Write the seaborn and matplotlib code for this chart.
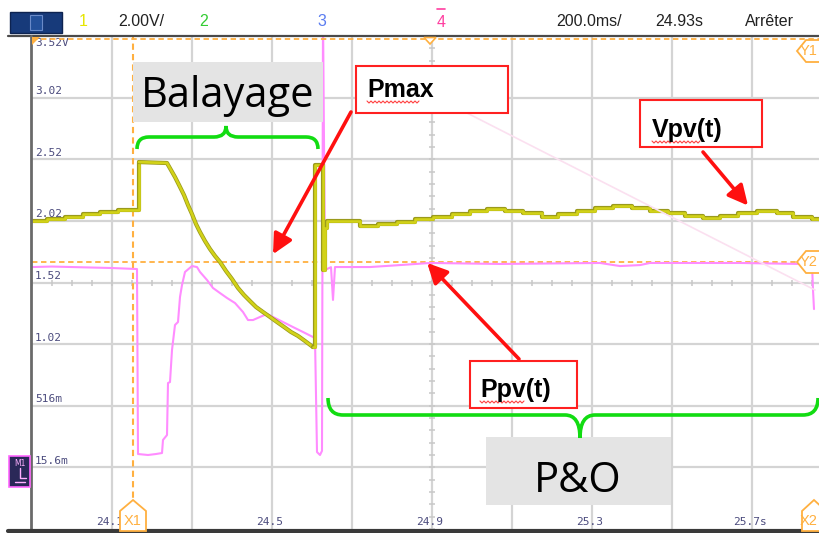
import matplotlib
matplotlib.use("Agg")
import matplotlib.pyplot as plt
import matplotlib.patheffects as pe
from matplotlib.lines import Line2D
from matplotlib.patches import Polygon, Rectangle, PathPatch
from matplotlib.path import Path
import numpy as np
import pandas as pd
import seaborn as sns

# ---------------- channel 1 : PV voltage Vpv(t)  (s, V) ----------------
vpv_time = [23.900, 23.9375, 23.9825, 24.0275, 24.070, 24.115,
            24.1675, 24.200, 24.2375, 24.2475, 24.2575, 24.2675, 24.280,
            24.290, 24.300, 24.310, 24.320, 24.3325, 24.345, 24.3575,
            24.370, 24.385, 24.400, 24.415, 24.430, 24.445, 24.460,
            24.4775, 24.495, 24.5125, 24.530, 24.5475, 24.565, 24.5825,
            24.6025, 24.6075, 24.6275, 24.6325, 24.6375,
            24.720, 24.765, 24.8125, 24.8575, 24.9025, 24.950, 24.995,
            25.0375, 25.0825, 25.1275, 25.175, 25.215, 25.2625, 25.3075,
            25.3525, 25.400, 25.445, 25.490, 25.5325, 25.5775, 25.620,
            25.665, 25.7125, 25.7625, 25.8025, 25.850, 25.870]
vpv_level = [2.015, 2.031, 2.047, 2.071, 2.088, 2.104,
             2.493, 2.489, 2.485, 2.428, 2.371, 2.307, 2.225,
             2.144, 2.071, 1.990, 1.925, 1.852, 1.787, 1.731,
             1.682, 1.609, 1.544, 1.471, 1.414, 1.365, 1.317,
             1.276, 1.236, 1.195, 1.155, 1.114, 1.082, 1.041,
             0.992, 2.469, 1.617, 1.958, 2.015,
             1.974, 1.990, 2.006, 2.031, 2.047, 2.071, 2.096,
             2.112, 2.096, 2.079, 2.047, 2.071, 2.096, 2.120,
             2.136, 2.120, 2.096, 2.079, 2.055, 2.039, 2.055,
             2.079, 2.096, 2.079, 2.047, 2.031, 2.031]
# index range of the MPP sweep (drawn as a ramp, the rest as held steps)
SWEEP_START, SWEEP_END = 6, 34

# ---------------- channel 4 : PV power Ppv(t) ----------------
ppv_time = [23.900, 23.950, 24.000, 24.050, 24.100, 24.1625,
            24.165, 24.190, 24.210, 24.225, 24.2275, 24.2375, 24.240,
            24.245, 24.250, 24.2575, 24.265, 24.270, 24.275, 24.2825,
            24.300, 24.3125, 24.320, 24.3375, 24.3525, 24.370, 24.3875,
            24.4075, 24.4275, 24.440, 24.4525, 24.470, 24.4875, 24.5025,
            24.5275, 24.5525, 24.5775, 24.6075, 24.6125, 24.620, 24.625,
            24.6275, 24.6325, 24.6475, 24.6525, 24.6575, 24.745, 24.820,
            24.895, 25.070, 25.320, 25.370, 25.420, 25.445, 25.670,
            25.820, 25.850, 25.8525, 25.855]
ppv_level = [1.641, 1.645, 1.641, 1.637, 1.633, 1.625,
             0.124, 0.116, 0.124, 0.132, 0.238, 0.278, 0.700,
             0.708, 0.968, 1.171, 1.195, 1.398, 1.495, 1.601,
             1.649, 1.641, 1.601, 1.536, 1.471, 1.430, 1.390,
             1.349, 1.276, 1.211, 1.211, 1.236, 1.260, 1.236,
             1.195, 1.154, 1.114, 1.065, 0.140, 0.116, 0.150,
             3.700, 1.617, 1.640, 1.374, 1.641, 1.641, 1.657,
             1.674, 1.666, 1.674, 1.649, 1.657, 1.674, 1.674,
             1.666, 1.666, 1.455, 1.300]

# ---------------- graticule labels ----------------
volt_labels = ["3.52V", "3.02", "2.52", "2.02", "1.52", "1.02", "516m", "15.6m"]
volt_levels = [3.5156, 3.0156, 2.5156, 2.0156, 1.5156, 1.0156, 0.5156, 0.0156]
time_labels = ["24.1", "24.5", "24.9", "25.3", "25.7s"]
time_levels = [24.1, 24.5, 24.9, 25.3, 25.7]

# cursors
cursor_x1 = 24.1525
cursor_y2 = 1.682

W, H = 820, 533
T_MIN, T_MAX = 23.9, 23.9 + 788 / 400.0
V_MIN, V_MAX = -0.4844, 3.5156

sns.set_style("white")
plt.rcParams["font.family"] = ["DejaVu Sans"]

fig = plt.figure(figsize=(W / 100, H / 100), dpi=100)
fig.patch.set_facecolor("white")
ax = fig.add_axes([32 / W, 1 - 529 / H, (820 - 32) / W, (529 - 36) / H])
ax.set_xlim(T_MIN, T_MAX)
ax.set_ylim(V_MIN, V_MAX)
for s in ax.spines.values():
    s.set_visible(False)

# graticule
ax.set_xticks(np.arange(24.1, 25.86, 0.2))
ax.set_yticks(volt_levels[1:])
ax.grid(True, color="#d4d4d4", lw=1.6)
ax.set_axisbelow(True)
ax.tick_params(length=0, labelbottom=False, labelleft=False)

# sub-division marks on the centre lines
sub_t = np.arange(23.9, T_MAX, 0.05)
ax.plot(sub_t, np.full_like(sub_t, 1.5156), ls="none", marker="|", ms=5,
        mew=1.1, color="#c8c8c8", zorder=1)
sub_v = np.arange(-0.4844, 3.52, 0.1)
ax.plot(np.full_like(sub_v, 24.9), sub_v, ls="none", marker="_", ms=5,
        mew=1.1, color="#c8c8c8", zorder=1)

# cursors (dashed orange)
cur_col = "#ffb040"
ax.axvline(cursor_x1, color=cur_col, lw=1.5, ls=(0, (3, 2)), zorder=2)
ax.axhline(cursor_y2, color=cur_col, lw=1.3, ls=(0, (3, 2)), zorder=2)

# traces
df_v = pd.DataFrame({"t": vpv_time, "v": vpv_level})
df_p = pd.DataFrame({"t": ppv_time, "v": ppv_level})
sns.lineplot(data=df_p, x="t", y="v", ax=ax, sort=False, estimator=None,
             color="#ff8cff", lw=1.5, zorder=4)

yellow_kw = dict(color="#d2d218", lw=1.9, zorder=5,
                 path_effects=[pe.Stroke(linewidth=3.0, foreground="#9a9a1c"),
                               pe.Normal()])
sns.lineplot(data=df_v.iloc[:SWEEP_START + 1], x="t", y="v", ax=ax, sort=False,
             estimator=None, drawstyle="steps-post", **yellow_kw)
sns.lineplot(data=df_v.iloc[SWEEP_START:SWEEP_END + 1], x="t", y="v", ax=ax,
             sort=False, estimator=None, **yellow_kw)
sns.lineplot(data=df_v.iloc[SWEEP_END:], x="t", y="v", ax=ax, sort=False,
             estimator=None, drawstyle="steps-post", **yellow_kw)
ax.set_xlim(T_MIN, T_MAX)
ax.set_ylim(V_MIN, V_MAX)
ax.set_xlabel("")
ax.set_ylabel("")

# graticule labels
lab_col = "#4b4b7d"
for lbl, lvl in zip(volt_labels, volt_levels):
    if lbl.endswith("V"):
        ax.annotate(lbl, xy=(T_MIN, lvl), xytext=(2, -1.5), textcoords="offset points",
                    ha="left", va="top", fontsize=8, color=lab_col,
                    family="DejaVu Sans Mono", zorder=6)
    else:
        ax.annotate(lbl, xy=(T_MIN, lvl), xytext=(2, 1), textcoords="offset points",
                    ha="left", va="bottom", fontsize=8, color=lab_col,
                    family="DejaVu Sans Mono", zorder=6)
for lbl, pos in zip(time_labels, time_levels):
    ax.annotate(lbl, xy=(pos, V_MIN), xytext=(-1.5, 1.5), textcoords="offset points",
                ha="center", va="bottom", fontsize=8, color=lab_col,
                family="DejaVu Sans Mono", zorder=6, annotation_clip=False)


def P(x, y):
    return (x / W, 1 - y / H)


def fig_line(xs, ys, **kw):
    fig.add_artist(Line2D(np.asarray(xs) / W, 1 - np.asarray(ys) / H, **kw))


def fig_poly(pts, **kw):
    fig.add_artist(Polygon([P(*p) for p in pts], closed=True,
                           transform=fig.transFigure, **kw))


# frame of the screen
fig_line([8, 820], [36, 36], color="#4a4a4a", lw=1.6, zorder=7)
fig_line([32, 820], [38.5, 38.5], color=cur_col, lw=1.3, ls=(0, (3, 2)), zorder=7)
fig_line([31, 31], [36, 530], color="#6a6a6a", lw=2.0, zorder=7)
fig_line([8, 820], [530.5, 530.5], color="#3a3a3a", lw=3.0, zorder=7)
fig_poly([(32, 37), (40, 37), (32, 45)], facecolor=cur_col, edgecolor="none", zorder=8)
fig_poly([(424, 37.5), (436, 37.5), (430, 44)], facecolor="white",
         edgecolor=cur_col, lw=1.2, zorder=8)

# header bar
fig.add_artist(Rectangle(P(10, 33), 52 / W, 21 / H, transform=fig.transFigure,
                         facecolor="#173a7a", edgecolor="#0d2350", lw=1, zorder=7))
fig.add_artist(Rectangle(P(30, 30), 12 / W, 15 / H, transform=fig.transFigure,
                         facecolor="#23509a", edgecolor="#6a8ac8", lw=0.8, zorder=8))
hdr = dict(fontsize=11.5, va="center", family="Liberation Sans", zorder=8)
fig.text(*P(83, 21), "1", color="#e6e600", ha="center", **hdr)
fig.text(*P(118, 21), "2.00V/", color="#222222", ha="left", **hdr)
fig.text(*P(204, 21), "2", color="#33cc33", ha="center", **hdr)
fig.text(*P(322, 21), "3", color="#5a7cf0", ha="center", **hdr)
fig.text(*P(441, 22), "4", color="#ff3ea0", ha="center", **hdr)
fig_line([437, 445], [9, 9], color="#ff3ea0", lw=1.2, zorder=8)
fig.text(*P(556, 21), "200.0ms/", color="#222222", ha="left", **hdr)
fig.text(*P(655, 21), "24.93s", color="#222222", ha="left", **hdr)
fig.text(*P(745, 21), "Arrêter", color="#222222", ha="left", **hdr)

# ground / channel marker on the left
fig.add_artist(Rectangle(P(9, 487), 21 / W, 31 / H, transform=fig.transFigure,
                         facecolor="#2a2858", edgecolor="#ff66ff", lw=1.2, zorder=8))
fig.text(*P(14, 463), "M1", color="#ffb0ff", fontsize=5.5, ha="left",
         va="center", zorder=9, family="DejaVu Sans")
fig_line([20, 20, 26], [468, 478, 478], color="#ffb0ff", lw=1, zorder=9)
fig_line([15, 25], [482, 482], color="#ffb0ff", lw=1, zorder=9)

# cursor tags
tag_font = dict(fontsize=10.5, color=cur_col, family="Liberation Sans", zorder=11)
fig_poly([(120, 531), (120, 511), (133, 500), (146, 511), (146, 531)],
         facecolor="white", edgecolor=cur_col, lw=1.3, zorder=10)
fig.text(*P(133, 521), "X1", ha="center", va="center", **tag_font)
fig_poly([(802, 531), (802, 511), (814, 500), (826, 511), (826, 531)],
         facecolor="white", edgecolor=cur_col, lw=1.3, zorder=10)
fig.text(*P(818, 521), "X2", ha="right", va="center", **tag_font)
for yc, tag in [(262, "Y2"), (51, "Y1")]:
    fig_poly([(826, yc - 11), (806, yc - 11), (797, yc), (806, yc + 11), (826, yc + 11)],
             facecolor="white", edgecolor=cur_col, lw=1.3, zorder=10)
    fig.text(*P(818, yc), tag, ha="right", va="center", **tag_font)

# faint diagonal stray line
fig_line([467, 815], [113, 290], color="#fbe0f0", lw=1.2, zorder=9)

# grey caption boxes
for (x0, y0, x1, y1), txt, bx, by in [((133, 62, 323, 122), "Balayage", 228, 107),
                                      ((486, 437, 671, 505), "P&O", 578, 492)]:
    fig.add_artist(Rectangle(P(x0, y1), (x1 - x0) / W, (y1 - y0) / H,
                             transform=fig.transFigure, facecolor="#e4e4e4",
                             edgecolor="none", zorder=8))
    fig.text(*P(bx, by), txt, ha="center", va="baseline", fontsize=30,
             family="Open Sans", color="black", zorder=9)

# green braces
green = "#12dc12"
M, C3, L = Path.MOVETO, Path.CURVE3, Path.LINETO
up_pts = [(137, 149), (137, 137), (149, 137), (214, 137), (226, 137), (226, 126),
          (226, 137), (238, 137), (306, 137), (318, 137), (318, 149)]
lo_pts = [(328, 398), (328, 415), (343, 415), (565, 415), (580, 415), (580, 438),
          (580, 415), (595, 415), (803, 415), (818, 415), (818, 398)]
codes = [M, C3, C3, L, C3, C3, C3, C3, L, C3, C3]
for pts in (up_pts, lo_pts):
    fig.add_artist(PathPatch(Path([P(*p) for p in pts], codes),
                             transform=fig.transFigure, facecolor="none",
                             edgecolor=green, lw=2.6, zorder=9))

# red call-out boxes with arrows
red = "#ff2020"
boxes = [((356, 66, 508, 113), "Pmax", 367, 97, 53),
         ((640, 100, 762, 147), "Vpv(t)", 652, 137, 49),
         ((470, 361, 577, 408), "Ppv(t)", 480, 397, 45)]
for (x0, y0, x1, y1), txt, tx, ty, sq in boxes:
    fig.add_artist(Rectangle(P(x0, y1), (x1 - x0) / W, (y1 - y0) / H,
                             transform=fig.transFigure, facecolor="white",
                             edgecolor=red, lw=1.5, zorder=12))
    fig.text(*P(tx, ty), txt, ha="left", va="baseline", fontsize=18,
             fontweight="bold", family="Liberation Sans", color="black", zorder=13)
    xs = np.arange(tx, tx + sq + 0.1, 2.0)
    ys = ty + 5 + np.where(np.arange(len(xs)) % 2 == 0, -1.0, 1.0)
    fig_line(xs, ys, color="#ff4040", lw=0.8, zorder=13)

arrow_kw = dict(arrowstyle="-|>,head_length=0.6,head_width=0.3", color="#ff1010",
                lw=2.6, shrinkA=0, shrinkB=0, mutation_scale=20)
for start, target in [((351, 112), (24.5025, 1.745)),
                      ((703, 152), (25.69, 2.14)),
                      ((519, 359), (24.888, 1.674))]:
    ax.annotate("", xy=target, xycoords="data", xytext=P(*start),
                textcoords="figure fraction", arrowprops=arrow_kw,
                annotation_clip=False, zorder=12)

fig.savefig("out.png", dpi=100, facecolor="white")
